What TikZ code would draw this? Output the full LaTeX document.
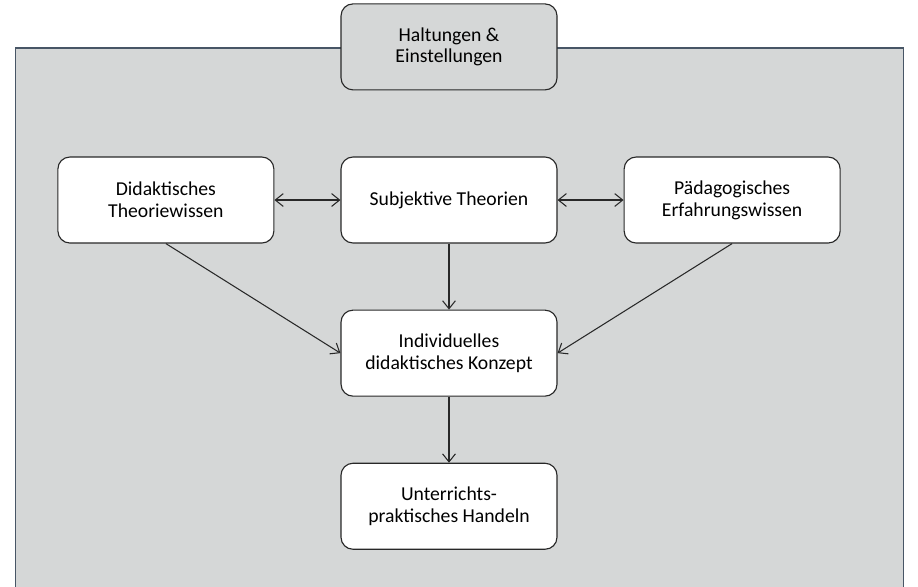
\documentclass[tikz,border=0pt]{standalone}
\usepackage{fontspec}
\setmainfont{Carlito}
\usepackage{tikz}
\usetikzlibrary{arrows.meta, positioning}
\definecolor{panel}{RGB}{213,215,215}
\definecolor{panelrule}{RGB}{72,86,102}
\definecolor{inkline}{RGB}{40,40,40}

\begin{document}
\begin{tikzpicture}[node distance=1.65cm, >={Straight Barb[length=2mm,width=3.2mm]}, font=\fontsize{14}{15.5}\selectfont]
\tikzstyle{bx}=[draw=inkline, line width=0.8pt, fill=white, rounded corners=0.3cm, align=center, minimum width=5.4cm, minimum height=2.15cm]
\tikzstyle{link}=[draw=inkline, line width=0.75pt]
\useasboundingbox (0,0) rectangle (22.95,-14.65);

% grey panel behind the diagram
\fill[panel] (0.39,-1.2) rectangle (22.58,-14.8);
\draw[panelrule, line width=0.9pt] (0.39,-14.8) -- (0.39,-1.2) -- (22.58,-1.2) -- (22.58,-14.8);

\node[bx] (Subj) at (11.225,-5.0) {Subjektive Theorien};
\node[bx, left=1.65cm of Subj] (Didak) {Didaktisches\\Theoriewissen};
\node[bx, right=1.65cm of Subj] (Paed) {Pädagogisches\\Erfahrungswissen};
\node[bx, above=of Subj, fill=panel] (Halt) {Haltungen \&\\Einstellungen};

\node[bx, below=of Subj] (Konz) {Individuelles\\didaktisches Konzept};
\node[bx, below=of Konz] (Hand) {Unterrichts-\\praktisches Handeln};

\draw[link, <->] (Didak) -- (Subj);
\draw[link, <->] (Subj) -- (Paed);
\draw[link, ->] (Subj) -- (Konz);
\draw[link, ->] (Didak.south) -- (Konz.west);
\draw[link, ->] (Paed.south) -- (Konz.east);
\draw[link, ->] (Konz) -- (Hand);
\end{tikzpicture}
\end{document}
